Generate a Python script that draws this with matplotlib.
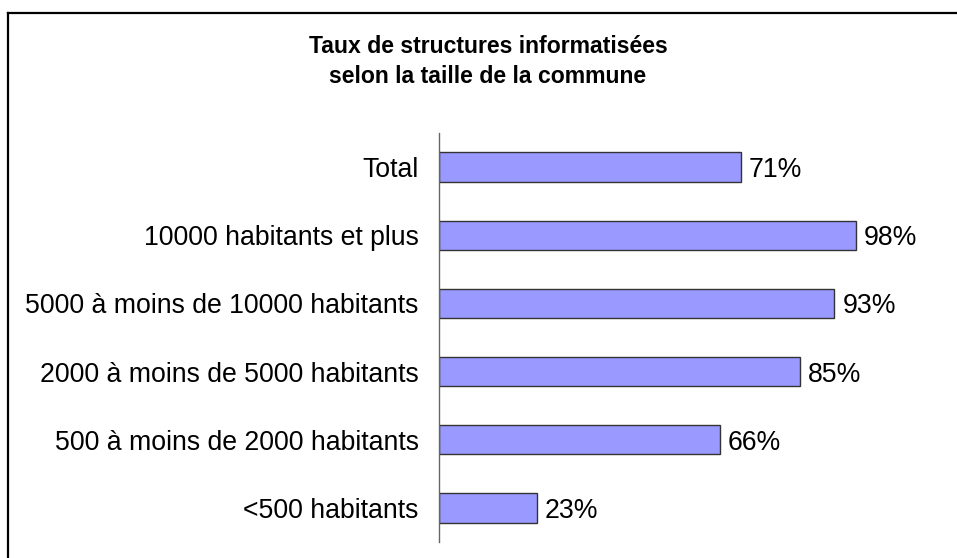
"""Taux de structures informatisées selon la taille de la commune"""

import matplotlib
matplotlib.use('Agg')
import matplotlib.pyplot as plt
from matplotlib.lines import Line2D

plt.rcParams['font.family'] = ['Liberation Sans', 'DejaVu Sans']

categories = ['Total',
              '10000 habitants et plus',
              '5000 à moins de 10000 habitants',
              '2000 à moins de 5000 habitants',
              '500 à moins de 2000 habitants',
              '<500 habitants']
values = [71, 98, 93, 85, 66, 23]
title_lines = ['Taux de structures informatisées',
               'selon la taille de la commune']

W, H = 957, 558
fig = plt.figure(figsize=(W / 100, H / 100), dpi=100)

# plot area in pixel coords: x0=439, 100% ~ 864, y from 133 to 542
ax = fig.add_axes([439 / W, 16 / H, 425 / W, 409 / H])

pos = list(range(len(categories)))
ax.barh(pos, values, height=0.43, color='#9999FF',
        edgecolor='#333333', linewidth=1)
ax.set_xlim(0, 100)
ax.set_ylim(len(categories) - 0.5, -0.5)

for p, v in zip(pos, values):
    ax.text(v + 1.9, p, '{}%'.format(v), va='center_baseline', ha='left',
            fontsize=19.2)

ax.set_yticks(pos)
ax.set_yticklabels(categories, fontsize=19.2)
ax.tick_params(axis='y', length=0, pad=14.5)
ax.set_xticks([])
for s in ['top', 'right', 'bottom']:
    ax.spines[s].set_visible(False)
ax.spines['left'].set_color('#666666')
ax.spines['left'].set_linewidth(1)

fig.text(488 / W, 1 - 53 / H, title_lines[0], ha='center', va='baseline',
         fontsize=16.6, fontweight='bold')
fig.text(488 / W, 1 - 83 / H, title_lines[1], ha='center', va='baseline',
         fontsize=16.6, fontweight='bold')

# frame: top and left edges only
fig.add_artist(Line2D([8 / W, 8 / W], [0, 1 - 13 / H], transform=fig.transFigure,
                      color='black', linewidth=1.6))
fig.add_artist(Line2D([8 / W, 1], [1 - 13 / H, 1 - 13 / H], transform=fig.transFigure,
                      color='black', linewidth=1.6))

fig.savefig('out.png', dpi=100)
